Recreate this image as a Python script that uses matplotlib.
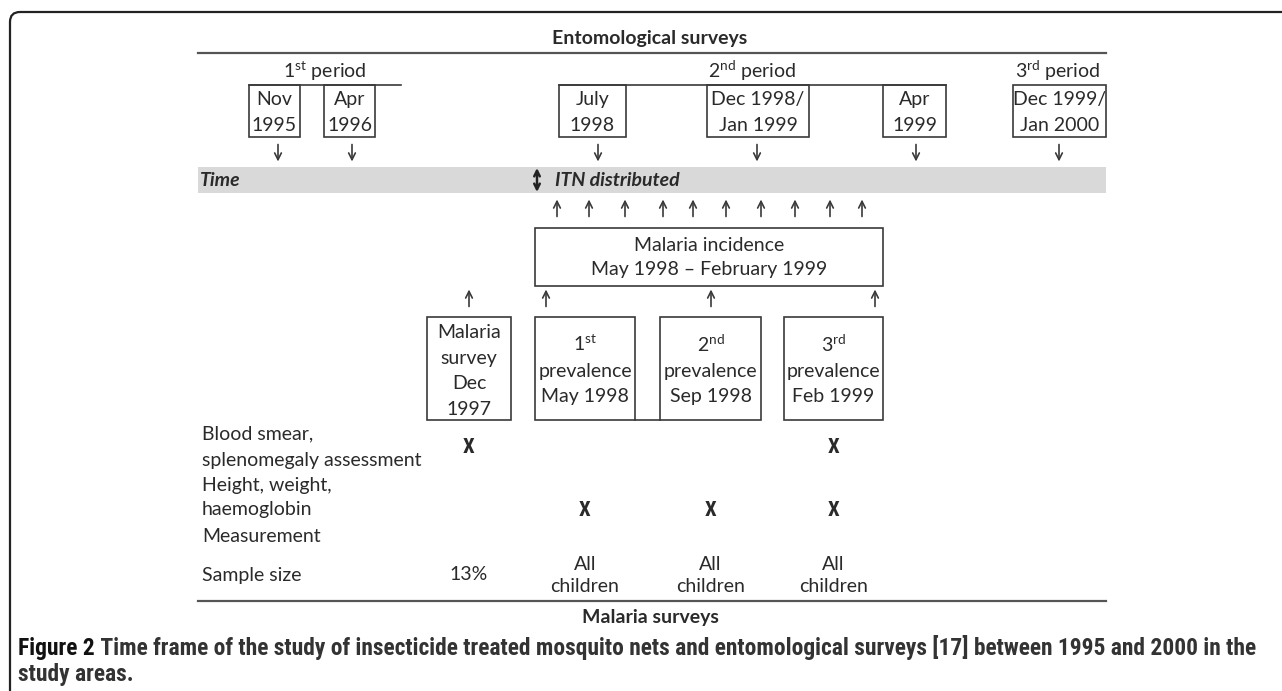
import matplotlib
matplotlib.use("Agg")
import matplotlib.pyplot as plt
from matplotlib.patches import Rectangle, FancyBboxPatch
from matplotlib import font_manager

plt.rcParams['font.family'] = ['Lato', 'DejaVu Sans']
plt.rcParams['mathtext.fontset'] = 'custom'
plt.rcParams['mathtext.rm'] = 'Lato'
plt.rcParams['mathtext.it'] = 'Lato:italic'
plt.rcParams['mathtext.bf'] = 'Lato:bold'

# ---- content ----
period_num = ['1', '2', '3']
period_sup = ['st', 'nd', 'rd']
entomo_dates = [['Nov', '1995'], ['Apr', '1996'], ['July', '1998'],
                ['Dec 1998/', 'Jan 1999'], ['Apr', '1999'], ['Dec 1999/', 'Jan 2000']]
incidence_label = ['Malaria incidence', 'May 1998 \u2013 February 1999']
survey_labels = [['Malaria', 'survey', 'Dec', '1997'],
                 [r'1$^{\mathrm{st}}$', 'prevalence', 'May 1998'],
                 [r'2$^{\mathrm{nd}}$', 'prevalence', 'Sep 1998'],
                 [r'3$^{\mathrm{rd}}$', 'prevalence', 'Feb 1999']]
row_labels = [['Blood smear,', 'splenomegaly assessment'],
              ['Height, weight,', 'haemoglobin', 'Measurement'],
              ['Sample size']]
blood_smear = [True, False, False, True]
height_weight = [False, True, True, True]
sample_size = [['13%'], ['All', 'children'], ['All', 'children'], ['All', 'children']]
caption_bold = 'Figure 2'
caption_rest = (' Time frame of the study of insecticide treated mosquito nets and entomological '
                'surveys [17] between 1995 and 2000 in the')
caption_line2 = 'study areas.'

# ---- layout (pixel coords) ----
TXT = '#2a2a2a'
LN = '#3a3a3a'
FS = 14

fig = plt.figure(figsize=(12.82, 6.91), dpi=100)
ax = fig.add_axes([0, 0, 1, 1])
ax.set_xlim(0, 1282)
ax.set_ylim(691, 0)
ax.axis('off')

avail = set(f.name for f in font_manager.fontManager.ttflist)
narrow = [f for f in ['Liberation Sans Narrow', 'DejaVu Sans Condensed', 'Roboto Condensed',
                      'Open Sans Condensed', 'Roboto'] if f in avail] or ['DejaVu Sans']
narrow = narrow[:1] + ['DejaVu Sans']

# outer frame with rounded corner (runs off the page right / bottom)
ax.add_patch(FancyBboxPatch((10, 12), 1320, 720, boxstyle='round,pad=0,rounding_size=10',
                            fill=False, ec='#222222', lw=1.6))


def lines_at(x, ys, lines, **kw):
    for y, s in zip(ys, lines):
        ax.text(x, y, s, ha=kw.get('ha', 'center'), va='center', fontsize=kw.get('fs', FS),
                color=TXT, fontweight=kw.get('fw', 'normal'),
                family=kw.get('family', plt.rcParams['font.family']))


def box(x0, x1, y0, y1):
    ax.add_patch(Rectangle((x0, y0), x1 - x0, y1 - y0, fill=False, ec=LN, lw=1.2))


def arrow(x, y, up=True, h=8.5):
    a, b = (y + h, y - h) if up else (y - h, y + h)
    ax.annotate('', xy=(x, b), xytext=(x, a),
                arrowprops=dict(arrowstyle='->', lw=1.2, color=LN, mutation_scale=12,
                                shrinkA=0, shrinkB=0))


# top section
ax.text(650, 38, 'Entomological surveys', ha='center', va='center', fontsize=FS,
        fontweight='bold', color=TXT)
ax.plot([198, 1106], [53, 53], color='#555555', lw=1.6)

period_x = [325, 752, 1058]
for px, n, s in zip(period_x, period_num, period_sup):
    ax.text(px, 71, n + r'$^{\mathrm{' + s + '}}$' + ' period', ha='center', va='center',
            fontsize=FS, color=TXT)
ax.plot([249, 401], [85, 85], color=LN, lw=1.2)
ax.plot([559, 946], [85, 85], color=LN, lw=1.2)

date_boxes = [(249, 300), (324, 375), (559, 626), (707, 809), (883, 946), (1013, 1106)]
down_x = [278, 352, 598, 757, 916, 1059]
for (x0, x1), lab, dx in zip(date_boxes, entomo_dates, down_x):
    box(x0, x1, 85, 137)
    lines_at((x0 + x1) / 2, [99, 125], lab)
    arrow(dx, 153, up=False)

# time band
ax.add_patch(Rectangle((198, 167), 908, 26, color='#d9d9d9', lw=0))
ax.text(200, 180, 'Time', ha='left', va='center', fontsize=FS, fontweight='bold',
        fontstyle='italic', color=TXT)
ax.annotate('', xy=(537, 168), xytext=(537, 192),
            arrowprops=dict(arrowstyle='<->', lw=1.8, color='#222222', mutation_scale=10,
                            shrinkA=0, shrinkB=0))
ax.text(555, 180, 'ITN distributed', ha='left', va='center', fontsize=FS, fontweight='bold',
        fontstyle='italic', color=TXT)

# monthly incidence arrows and box
for ux in [557, 589, 625, 663, 693, 726, 761, 795, 830, 862]:
    arrow(ux, 208)
box(535, 883, 228, 286)
lines_at(709, [245, 269], incidence_label)

# prevalence surveys
survey_boxes = [(427, 511), (535, 635), (660, 761), (784, 883)]
for ux in [469, 546, 711, 875]:
    arrow(ux, 298)
for i, ((x0, x1), lab) in enumerate(zip(survey_boxes, survey_labels)):
    box(x0, x1, 317, 420)
    cx = (x0 + x1) / 2
    if len(lab) == 4:
        lines_at(cx, [332, 358, 383, 409], lab)
    else:
        lines_at(cx, [344, 371, 396], lab)
ax.plot([635, 660], [420, 420], color=LN, lw=1.2)

# rows
lines_at(202, [434, 460], row_labels[0], ha='left')
lines_at(202, [485, 510, 536], row_labels[1], ha='left')
lines_at(202, [575], row_labels[2], ha='left')
centers = [(x0 + x1) / 2 for x0, x1 in survey_boxes]
for cx, b, h, s in zip(centers, blood_smear, height_weight, sample_size):
    if b:
        lines_at(cx, [447], ['X'], fw='bold', fs=15, family=narrow)
    if h:
        lines_at(cx, [510], ['X'], fw='bold', fs=15, family=narrow)
    if len(s) == 1:
        lines_at(cx, [575], s)
    else:
        lines_at(cx, [564, 587], s)

ax.plot([198, 1106], [601, 601], color='#555555', lw=1.6)
ax.text(650, 617, 'Malaria surveys', ha='center', va='center', fontsize=FS,
        fontweight='bold', color=TXT)

# caption, shrunk so the first line spans the same width as the original
cap_fs = 12.5
t1 = ax.text(18, 648, caption_bold, ha='left', va='center', fontsize=cap_fs, fontweight='bold',
             family=narrow, color='#111111')
t2 = ax.text(0, 648, caption_rest, ha='left', va='center', fontsize=cap_fs,
             fontweight='bold', family=narrow, color='#333333')
fig.canvas.draw()
w = t1.get_window_extent().width + t2.get_window_extent().width
cap_fs = cap_fs * 1244 / w
t1.set_fontsize(cap_fs)
t2.set_fontsize(cap_fs)
fig.canvas.draw()
t2.set_x(18 + t1.get_window_extent().width)
ax.text(18, 675, caption_line2, ha='left', va='center', fontsize=cap_fs, fontweight='bold',
        family=narrow, color='#333333')

fig.savefig('out.png', dpi=100)
